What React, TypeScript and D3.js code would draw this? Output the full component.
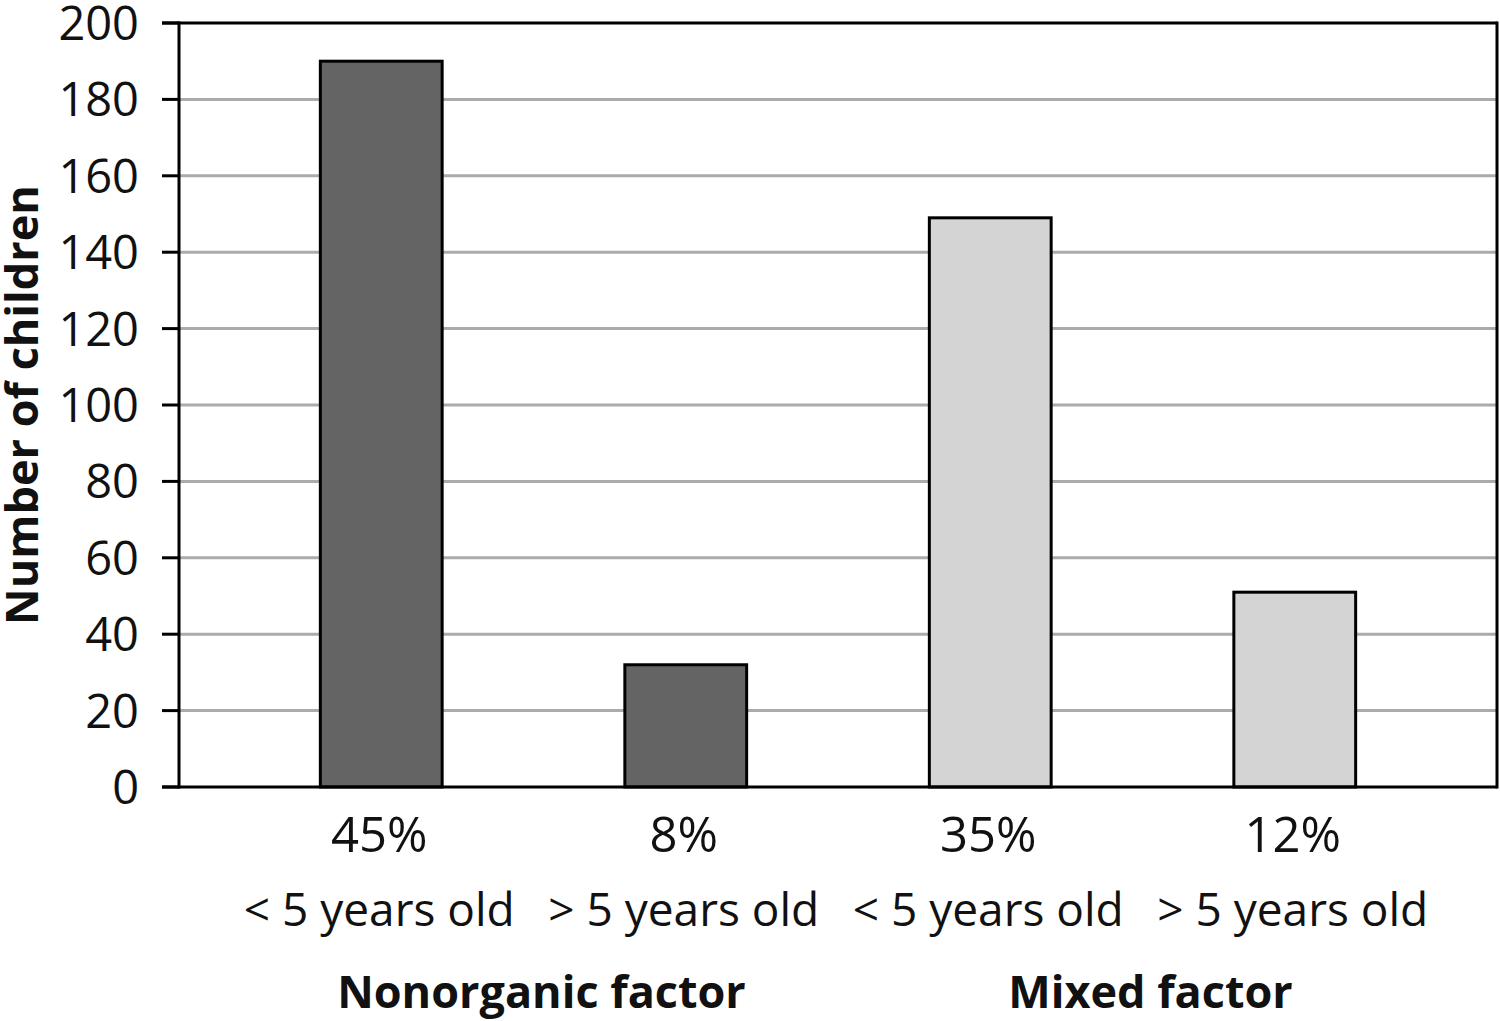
import * as d3 from 'd3';

const categories = ['a', 'b', 'c', 'd'];
const counts = [190, 32, 149, 51];
const percentLabels = ['45%', '8%', '35%', '12%'];
const ageLabels = ['< 5 years old', '> 5 years old', '< 5 years old', '> 5 years old'];
const groups = ['Nonorganic factor', 'Mixed factor'];
const groupOf = [0, 0, 1, 1];
const yTicks = [0, 20, 40, 60, 80, 100, 120, 140, 160, 180, 200];

const groupColors = ['#646464', '#d4d4d4'];
const FONT = '"Open Sans", "Noto Sans", sans-serif';

export default function App() {
  const width = 1500;
  const height = 1021;
  const plot = { left: 179, right: 1497, top: 23, bottom: 787 };

  const y = d3.scaleLinear().domain([0, 200]).range([plot.bottom, plot.top]);
  const x = d3.scaleBand<string>()
    .domain(categories)
    .range([229, 1447])
    .paddingInner(0.6)
    .paddingOuter(0.3);

  const center = (c: string) => (x(c) || 0) + x.bandwidth() / 2;

  return (
    <svg width={width} height={height} style={{ position: 'absolute', left: 0, top: 0, background: '#fff' }}>
      {/* gridlines */}
      {yTicks.filter(t => t > 0 && t < 200).map(t => (
        <line key={'g' + t} x1={plot.left} x2={plot.right} y1={y(t)} y2={y(t)} stroke="#ababab" strokeWidth={3} />
      ))}

      {/* bars */}
      {categories.map((c, i) => (
        <rect
          key={c}
          x={x(c)}
          y={y(counts[i])}
          width={x.bandwidth()}
          height={y(0) - y(counts[i])}
          fill={groupColors[groupOf[i]]}
          stroke="#000"
          strokeWidth={3}
        />
      ))}

      {/* frame and axes */}
      <line x1={162} x2={plot.right} y1={y(200)} y2={y(200)} stroke="#000" strokeWidth={3} />
      <line x1={plot.right} x2={plot.right} y1={y(200) - 1.5} y2={y(0) + 1.5} stroke="#000" strokeWidth={3} />
      <line x1={plot.left} x2={plot.left} y1={y(200) - 1.5} y2={y(0) + 1.5} stroke="#000" strokeWidth={3} />
      <line x1={162} x2={plot.right} y1={y(0)} y2={y(0)} stroke="#000" strokeWidth={3} />

      {/* y ticks */}
      {yTicks.map(t => (
        <g key={'t' + t}>
          <line x1={162} x2={plot.left} y1={y(t)} y2={y(t)} stroke="#000" strokeWidth={3} />
          <text x={139} y={y(t)} dy="0.36em" textAnchor="end" fontFamily={FONT} fontSize={47} fill="#111">
            {t}
          </text>
        </g>
      ))}

      {/* y title */}
      <text
        transform={`translate(38, ${(plot.top + plot.bottom) / 2}) rotate(-90)`}
        textAnchor="middle"
        fontFamily={FONT}
        fontWeight="bold"
        fontSize={45}
        fill="#111"
      >
        Number of children
      </text>

      {/* category labels */}
      {categories.map((c, i) => (
        <g key={'l' + c}>
          <text x={center(c) - 2} y={852} textAnchor="middle" fontFamily={FONT} fontSize={49} fill="#111">
            {percentLabels[i]}
          </text>
          <text x={center(c) - 2} y={926} textAnchor="middle" fontFamily={FONT} fontSize={46} fill="#111">
            {ageLabels[i]}
          </text>
        </g>
      ))}

      {/* group labels */}
      {groups.map((g, gi) => {
        const members = categories.filter((_, i) => groupOf[i] === gi);
        const cx = d3.mean(members, center) || 0;
        return (
          <text key={g} x={cx + 8} y={1008} textAnchor="middle" fontFamily={FONT} fontWeight="bold" fontSize={45} fill="#111">
            {g}
          </text>
        );
      })}
    </svg>
  );
}
